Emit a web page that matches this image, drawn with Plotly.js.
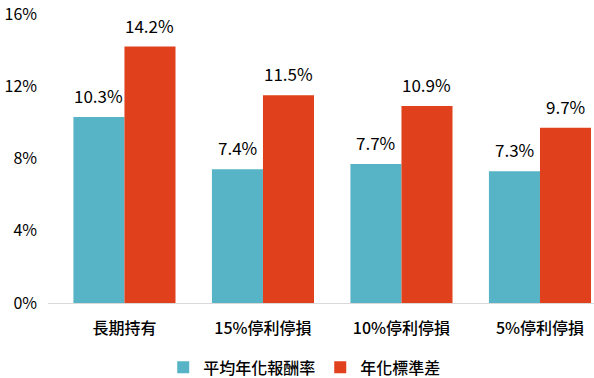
<!DOCTYPE html>
<html><head><meta charset="utf-8">
<script src="https://cdn.plot.ly/plotly-3.0.1.min.js"></script>
<style>html,body{margin:0;padding:0;background:#fff}#c{width:594px;height:378px}</style>
</head><body><div id="c"></div>
<script>
const categories = ['長期持有','15%停利停損','10%停利停損','5%停利停損'];
const avgReturn = [10.3, 7.4, 7.7, 7.3];
const annualStd = [14.2, 11.5, 10.9, 9.7];
const seriesNames = ['平均年化報酬率','年化標準差'];
const yTicks = [0,4,8,12,16];

const fam = '"Noto Sans CJK TC", "Noto Sans", sans-serif';
const font = {family:fam, size:16, color:'#000', weight:500};
const numFont = {family:fam, size:16, color:'#000', weight:400};
const labelFont = {family:fam, size:17, color:'#000', weight:400};
const fmt = v => v.toFixed(1) + '%';
const colors = ['#56B4C6', '#E0401C'];
const series = [avgReturn, annualStd];
const bargap = 0.263;
const barW = (1 - bargap) / 2;

const traces = series.map((vals, i) => ({
  type:'bar', name:seriesNames[i], x:categories, y:vals, marker:{color:colors[i]}, hoverinfo:'none'
}));

const annotations = [];
series.forEach((vals, i) => {
  vals.forEach((v, j) => {
    annotations.push({
      x: j + (i === 0 ? -barW/2 : barW/2), y: v, xref:'x', yref:'y',
      text: fmt(v), showarrow:false, yanchor:'bottom', yshift:7, font:labelFont
    });
  });
});

const layout = {
  width:594, height:378, paper_bgcolor:'#fff', plot_bgcolor:'#fff',
  margin:{l:48, r:0, t:13.5, b:75},
  font:font, barmode:'group', bargap:bargap, bargroupgap:0,
  showlegend:true,
  legend:{orientation:'h', x:0.513, xanchor:'center', xref:'container', y:0.028, yanchor:'middle', yref:'container', font:font, traceorder:'normal', itemwidth:20},
  xaxis:{type:'category', range:[-0.552, 3.39], showline:true, linecolor:'#d9d9d9', linewidth:1, ticks:'', tickfont:font, fixedrange:true, ticklabelstandoff:11},
  yaxis:{range:[0,16], tickvals:yTicks, ticktext:yTicks.map(v=>v+'%'), showgrid:false, zeroline:false, showline:false, ticks:'', tickfont:numFont, ticklabelstandoff:10},
  annotations: annotations
};
Plotly.newPlot('c', traces, layout, {staticPlot:true});
</script></body></html>
